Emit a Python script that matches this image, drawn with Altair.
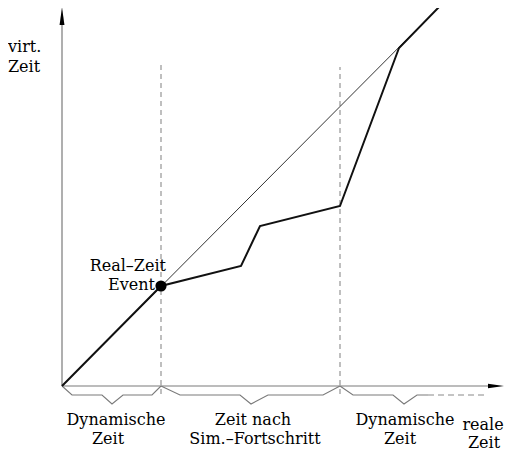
import altair as alt
import pandas as pd

# t = real time, v = virtual time (units: origin at the axes' crossing)
thick_t = [0, 99, 179, 198, 278, 337, 377]
thick_v = [0, 100, 120, 160, 180, 338, 379]
diag_t = [0, 377]
diag_v = [0, 379]

yaxis_t = [0, 0]
yaxis_v = [0, 361]
xaxis_t = [0, 428]
xaxis_v = [0, 0]

event_t = [99]
event_v = [100]

guide1_t = [99, 99]
guide1_v = [-8, 324]
guide2_t = [278, 278]
guide2_v = [-8, 319]

brace1_t = [0, 10, 40, 50, 61, 90, 99]
brace1_v = [0, -9, -9, -18, -9, -9, 0]
brace2_t = [99, 118, 178, 189, 206, 261, 278]
brace2_v = [0, -9, -9, -18, -9, -9, 0]
brace3_t = [278, 291, 331, 342, 355, 366]
brace3_v = [0, -9, -9, -18, -9, -9]
tail_t = [366, 425]
tail_v = [-9, -9]

left_texts = ["virt.", "Zeit"]
left_t = [-54, -54]
left_v = [334, 314]

right_texts = ["Real–Zeit", "Event"]
right_t = [104, 93]
right_v = [115, 96]

center_texts = ["Dynamische", "Zeit", "Zeit nach", "Sim.–Fortschritt",
                "Dynamische", "Zeit", "reale", "Zeit"]
center_t = [54, 46, 191, 193, 343, 338, 421, 422]
center_v = [-39, -58, -39, -58, -39, -58, -44, -62]

X = alt.X("t:Q", scale=alt.Scale(domain=[-54, 443], nice=False, zero=False), axis=None)
Y = alt.Y("v:Q", scale=alt.Scale(domain=[-67, 378], nice=False, zero=False), axis=None)

FONT = "DejaVu Serif"
FSIZE = 16


def path_df(groups):
    rows = []
    for gi, (ts, vs) in enumerate(groups):
        for i, (t, v) in enumerate(zip(ts, vs)):
            rows.append({"t": t, "v": v, "seg": gi, "ord": i})
    return pd.DataFrame(rows)


def lines(groups, **mark):
    return alt.Chart(path_df(groups)).mark_line(**mark).encode(
        x=X, y=Y, detail="seg:N", order="ord:Q"
    )


axes = lines([(yaxis_t, yaxis_v), (xaxis_t, xaxis_v)], color="#7a7a7a", strokeWidth=1.2)
braces = lines([(brace1_t, brace1_v), (brace2_t, brace2_v), (brace3_t, brace3_v)],
               color="#7a7a7a", strokeWidth=1.1)
tail = lines([(tail_t, tail_v)], color="#8a8a8a", strokeWidth=1.1, strokeDash=[6, 4])
guides = lines([(guide1_t, guide1_v), (guide2_t, guide2_v)], color="#b0b0b0",
               strokeWidth=1.6, strokeDash=[5, 4])
diag = lines([(diag_t, diag_v)], color="#333333", strokeWidth=1.0)
thick = lines([(thick_t, thick_v)], color="#111111", strokeWidth=2.0)

arrow_up = alt.Chart(pd.DataFrame({"t": [0], "v": [370]})).mark_point(
    shape="M 0 -1 L 0.27 1 L -0.27 1 Z", size=324, filled=True, color="black", opacity=1
).encode(x=X, y=Y)
arrow_right = alt.Chart(pd.DataFrame({"t": [434], "v": [0]})).mark_point(
    shape="M 1 0 L -1 -0.28 L -1 0.28 Z", size=256, filled=True, color="black", opacity=1
).encode(x=X, y=Y)

dot = alt.Chart(pd.DataFrame({"t": event_t, "v": event_v})).mark_circle(
    size=125, color="black", opacity=1
).encode(x=X, y=Y)


def texts(labels, ts, vs, align):
    return alt.Chart(pd.DataFrame({"t": ts, "v": vs, "label": labels})).mark_text(
        align=align, baseline="alphabetic", font=FONT, fontSize=FSIZE, color="black"
    ).encode(x=X, y=Y, text="label:N")


chart = alt.layer(
    guides, axes, braces, tail, diag, thick, arrow_up, arrow_right, dot,
    texts(left_texts, left_t, left_v, "left"),
    texts(right_texts, right_t, right_v, "right"),
    texts(center_texts, center_t, center_v, "center"),
).properties(
    width=497, height=445, autosize="none", padding=0,
    background="white",
).configure_view(stroke=None)

chart.save("out.html", embed_options={"renderer": "svg", "actions": False})
